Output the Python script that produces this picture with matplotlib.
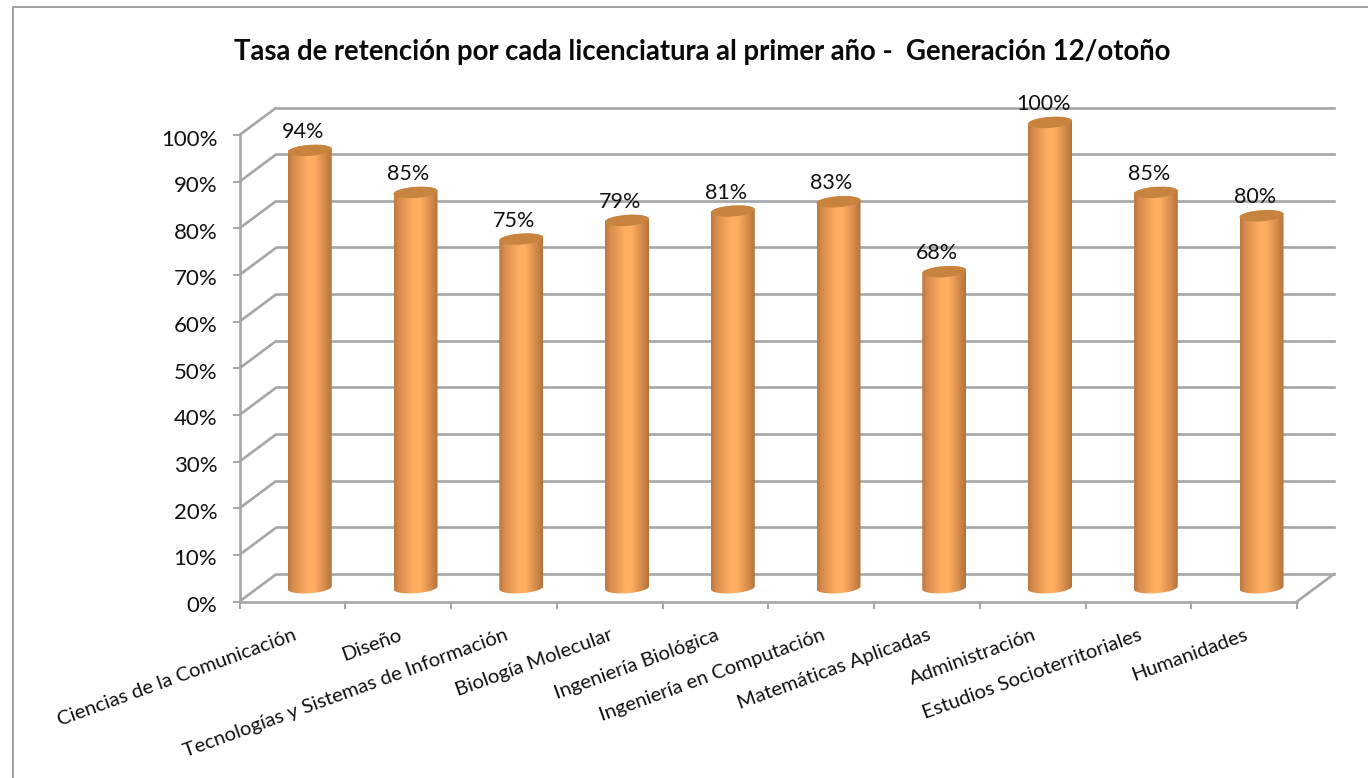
import numpy as np
import matplotlib
matplotlib.use("Agg")
import matplotlib.pyplot as plt
from matplotlib.patches import Polygon
from matplotlib.transforms import ScaledTranslation

categories = ["Ciencias de la Comunicación", "Diseño", "Tecnologías y Sistemas de Información",
              "Biología Molecular", "Ingeniería Biológica", "Ingeniería en Computación",
              "Matemáticas Aplicadas", "Administración", "Estudios Socioterritoriales", "Humanidades"]
values = [94, 85, 75, 79, 81, 83, 68, 100, 85, 80]
y_ticks = [0, 10, 20, 30, 40, 50, 60, 70, 80, 90, 100]
title = "Tasa de retención por cada licenciatura al primer año -  Generación 12/otoño"

W, H = 1368, 778
GRAY = "#a6a6a6"

plt.rcParams["font.family"] = ["Lato", "DejaVu Sans"]

fig = plt.figure(figsize=(W / 100, H / 100), dpi=100)
# plot area in pixels, measured on the reference
x0, x1, y0, y1 = 239.5, 1297, 601.5, 135
ax = fig.add_axes([x0 / W, 1 - y0 / H, (x1 - x0) / W, (y0 - y1) / H])
ax.set_xlim(0, len(categories))
ax.set_ylim(0, 100)
ax.patch.set_alpha(0)

# depth of the fake 3d box, in data units
px_x = len(categories) / (x1 - x0)
px_y = 100 / (y0 - y1)
dx, dy = 37 * px_x, 27.5 * px_y

# walls
for v in y_ticks:
    ax.plot([0, dx], [v, v + dy], color=GRAY, lw=1.9, clip_on=False, zorder=1, solid_capstyle="butt")
    ax.plot([dx, len(categories) + dx], [v + dy, v + dy], color=GRAY, lw=1.9, clip_on=False, zorder=1)
ax.plot([len(categories), len(categories) + dx], [0, dy], color=GRAY, lw=1.9, clip_on=False, zorder=1)

for s in ["top", "right"]:
    ax.spines[s].set_visible(False)
for s in ["left", "bottom"]:
    ax.spines[s].set_color(GRAY)
    ax.spines[s].set_linewidth(1.9)
    ax.spines[s].set_zorder(2)

ax.set_xticks(np.arange(len(categories) + 1))
ax.set_xticklabels([])
ax.set_yticks(y_ticks)
ax.set_yticklabels([f"{v}%" for v in y_ticks], fontsize=16, color="#111111")
ax.tick_params(axis="x", length=5, width=1.4, color=GRAY)
ax.tick_params(axis="y", length=5, width=1.4, color=GRAY, pad=11)
# labels sit a little below their ticks in the reference
for lbl in ax.get_yticklabels():
    lbl.set_transform(lbl.get_transform() + ScaledTranslation(0, -2.5 / 100, fig.dpi_scale_trans))

# gradient of the cylinder, dark edge to light centre to dark edge
stops = [0.0, 0.12, 0.45, 0.6, 0.85, 1.0]
edge_r = [0.73, 0.84, 1.0, 1.0, 0.83, 0.70]
edge_g = [0.47, 0.55, 0.68, 0.68, 0.54, 0.45]
edge_b = [0.25, 0.30, 0.38, 0.38, 0.29, 0.24]
t = np.linspace(0, 1, 128)
grad = np.dstack([np.interp(t, stops, edge_r), np.interp(t, stops, edge_g), np.interp(t, stops, edge_b)])

half_w = 22 * px_x
half_h = 5.5 * px_y
tilt = 1.5 * px_y
ang = np.linspace(0, np.pi, 40)

for i, v in enumerate(values):
    cx = i + 0.5 + dx * 0.47
    ybase = dy * 0.5
    ytop = v + dy * 0.5 - 1.2 * px_y
    top_x = cx + half_w * np.cos(ang)
    top_y = ytop + half_h * np.sin(ang) + tilt * np.cos(ang)
    bot_x = cx - half_w * np.cos(ang)
    bot_y = ybase - half_h * np.sin(ang) - tilt * np.cos(ang)
    outline = np.column_stack([np.r_[top_x, bot_x], np.r_[top_y, bot_y]])
    body = Polygon(outline, closed=True, transform=ax.transData, fc="none", ec="none")
    ax.add_patch(body)
    im = ax.imshow(grad, extent=[cx - half_w, cx + half_w, ybase - half_h - tilt, ytop + half_h + tilt],
                   aspect="auto", zorder=3, interpolation="bilinear")
    im.set_clip_path(body)
    # the image is cut at the axes box otherwise, and the 100% bar goes above it
    im.set_clip_box(fig.bbox)
    full = np.linspace(0, 2 * np.pi, 80)
    cap = np.column_stack([cx + half_w * np.cos(full), ytop + half_h * np.sin(full) + tilt * np.cos(full)])
    ax.add_patch(Polygon(cap, closed=True, fc="#c8843f", ec="none", zorder=4, clip_on=False))
    ax.annotate(f"{v}%", xy=(cx, ytop), xytext=(-5, 6), textcoords="offset points",
                ha="center", va="bottom", fontsize=15.5, color="#111111", zorder=5, annotation_clip=False)
    ax.annotate(categories[i], xy=(i + 0.5, 0), xytext=(0, -18), textcoords="offset points",
                ha="right", va="top", rotation=20, rotation_mode="anchor", fontsize=14.6, color="#111111",
                annotation_clip=False)

ax.set_xlim(0, len(categories))
ax.set_ylim(0, 100)

fig.text(702.5 / W, 1 - 52 / H, title, ha="center", va="center", fontsize=19.85, fontweight="bold", color="#0a0a0a")

# chart frame
fig.add_artist(plt.Line2D([13 / W, 13 / W, 1], [0, 1 - 6.5 / H, 1 - 6.5 / H], color="#a0a0a0", lw=1.4))

fig.savefig("out.png", dpi=100)
